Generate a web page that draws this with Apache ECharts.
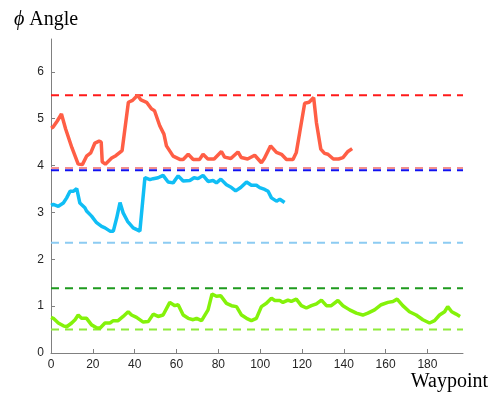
<!DOCTYPE html>
<html>
<head>
<meta charset="utf-8">
<script src="https://cdn.jsdelivr.net/npm/echarts@6/dist/echarts.min.js"></script>
<style>html,body{margin:0;padding:0;background:#fff;}#c{width:491px;height:393px;}</style>
</head>
<body>
<div id="c"></div>
<script>
// Red (orange-red) curve
const redX = [0,1,3,5,7,10,13,15,17,19,21,23,24,24.5,26,29,31,34,37,39,41.4,43,45.7,48,49.5,52,54,55.2,58.4,61.6,63.2,65.6,68,71,72.7,75,78,81.5,83,86,89.4,91,94,97.4,100.6,102,105,107.8,110.2,112.6,115.7,117.3,118.9,121.3,123.4,125.6,126.9,129,130.8,132.4,135,137.5,139.6,142,144];
const redY = [4.80,4.82,4.95,5.10,4.78,4.38,4.03,4.02,4.20,4.27,4.48,4.52,4.50,4.08,4.03,4.16,4.21,4.32,5.35,5.39,5.50,5.40,5.35,5.21,5.17,4.85,4.67,4.42,4.20,4.13,4.13,4.24,4.13,4.13,4.24,4.14,4.14,4.30,4.18,4.15,4.29,4.17,4.14,4.22,4.06,4.15,4.42,4.28,4.24,4.13,4.13,4.28,4.70,5.33,5.35,5.45,4.92,4.35,4.26,4.24,4.14,4.14,4.17,4.30,4.36];

// Blue curve
const blueX = [0,1.1,3.5,5.9,7.5,9.1,10.6,12.3,13.8,16.2,17,19.4,21.8,24.2,25.8,28.2,29.8,31.4,33,34.5,36.6,39.3,42.5,43.3,44.9,47.3,48.9,51.2,53.6,56,58.4,60.8,63.2,66.4,68.4,70.3,72.7,75.1,77.5,79.1,81.2,83.9,86.3,88.3,90.7,93.5,95.8,98.2,99.8,102.2,103.8,105.4,107.8,109.4,111.7];
const blueY = [3.15,3.17,3.13,3.20,3.31,3.45,3.45,3.51,3.20,3.10,3.03,2.92,2.78,2.70,2.67,2.60,2.60,2.88,3.21,2.99,2.81,2.67,2.60,2.63,3.74,3.70,3.72,3.74,3.79,3.65,3.63,3.78,3.67,3.68,3.74,3.72,3.79,3.66,3.68,3.63,3.71,3.59,3.53,3.46,3.53,3.65,3.58,3.58,3.53,3.49,3.45,3.31,3.24,3.28,3.21];

// Green curve
const greenX = [0,1.1,3.5,5.9,7.5,9.9,11.5,13,14.6,17,19.4,21.8,23.4,25.8,28.2,29.8,32.1,34.5,36.9,38.5,40.9,44.1,46.5,48.9,51.2,53.6,56.8,59.2,60.8,63.2,65.6,68,69.6,72,75.1,77,79.1,81.2,83.9,86.3,88.7,91.1,93.5,95.8,98.2,100.6,103,105.4,107,109.4,110.9,113.3,114.9,117.3,119.7,122.1,124.5,126.9,129.3,131.7,134,137.2,139.6,142.8,146,149.1,151.5,154.7,157.9,161.1,163.5,165.5,168.2,171.4,174.6,177.8,181,183.4,185.8,188.2,189.7,191.6,193.7,195.6];
const greenY = [0.76,0.74,0.64,0.58,0.56,0.64,0.71,0.81,0.74,0.74,0.60,0.54,0.53,0.64,0.64,0.69,0.69,0.78,0.88,0.81,0.76,0.66,0.67,0.83,0.78,0.81,1.08,1.01,1.03,0.81,0.74,0.71,0.74,0.69,0.92,1.26,1.21,1.22,1.06,1.01,0.99,0.81,0.74,0.69,0.74,0.99,1.06,1.17,1.12,1.12,1.08,1.13,1.10,1.15,1.01,0.96,1.01,1.05,1.13,1.01,1.01,1.12,1.01,0.92,0.85,0.81,0.85,0.92,1.03,1.08,1.10,1.15,1.01,0.88,0.81,0.71,0.64,0.69,0.81,0.88,0.99,0.88,0.83,0.78];

// Horizontal dashed reference levels
const refLevels = [5.5, 3.95, 3.9, 2.35, 1.38, 0.5];
const refColors = ['#FF1A1A', '#F29090', '#1010F0', '#8CCBF2', '#1E9A1E', '#8EEB3A'];

const xMin = 0, xMax = 197;
const yMin = 0, yMax = 6.7;
const xTickInterval = 20, yTickInterval = 1;

function pairs(xs, ys) { return xs.map((x, i) => [x, ys[i]]); }

const series = [];
refLevels.forEach((v, i) => {
  series.push({
    type: 'line', data: [[xMin, v], [xMax, v]], symbol: 'none', silent: true,
    lineStyle: { color: refColors[i], width: 2, type: [8, 6] }, z: 1
  });
});
series.push({ type: 'line', data: pairs(redX, redY), symbol: 'none', lineStyle: { color: '#FF5E45', width: 3.5 }, z: 3 });
series.push({ type: 'line', data: pairs(blueX, blueY), symbol: 'none', lineStyle: { color: '#10BEF5', width: 3.5 }, z: 3 });
series.push({ type: 'line', data: pairs(greenX, greenY), symbol: 'none', lineStyle: { color: '#84F20A', width: 3.5 }, z: 3 });

const chart = echarts.init(document.getElementById('c'));
chart.setOption({
  animation: false,
  backgroundColor: '#fff',
  grid: { left: 51, right: 28, top: 39, bottom: 40, containLabel: false },
  xAxis: {
    type: 'value', min: xMin, max: xMax, interval: xTickInterval,
    name: 'Waypoint', nameLocation: 'end', nameGap: 25,
    nameTextStyle: { fontFamily: 'Liberation Serif', fontSize: 20, color: '#000', align: 'right', verticalAlign: 'top', padding: [19, 0, 0, 0] },
    axisLine: { show: true, lineStyle: { color: '#808080', width: 1 } },
    axisTick: { show: true, inside: true, length: 4, lineStyle: { color: '#808080' } },
    axisLabel: { fontFamily: 'Liberation Sans', fontSize: 12, color: '#262626', margin: 6, showMaxLabel: false },
    splitLine: { show: false }
  },
  yAxis: {
    type: 'value', min: yMin, max: yMax, interval: yTickInterval,
    name: '{i|ϕ} Angle', nameLocation: 'end', nameGap: 9,
    nameTextStyle: { fontFamily: 'Liberation Serif', fontSize: 20, color: '#000', padding: [0, 10, 0, 0],
      rich: { i: { fontFamily: 'Liberation Serif', fontStyle: 'italic', fontSize: 20, color: '#000' } } },
    axisLine: { show: true, lineStyle: { color: '#808080', width: 1 } },
    axisTick: { show: true, inside: true, length: 4, lineStyle: { color: '#808080' } },
    axisLabel: { fontFamily: 'Liberation Sans', fontSize: 12, color: '#262626', margin: 7, showMaxLabel: false },
    splitLine: { show: false }
  },
  series: series
});
</script>
</body>
</html>
